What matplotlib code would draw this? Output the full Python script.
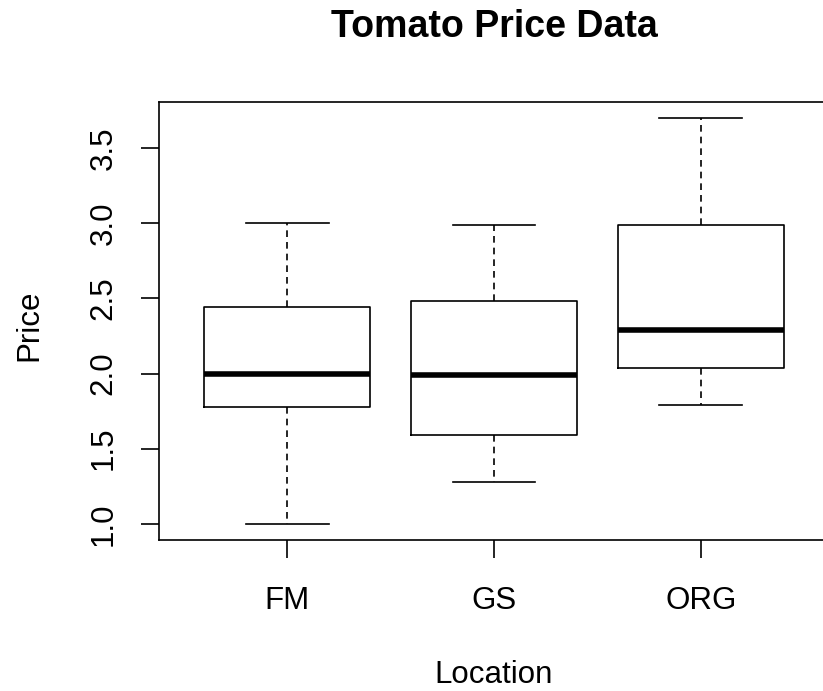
import matplotlib
matplotlib.use("Agg")
import matplotlib.pyplot as plt

plt.rcParams['font.family'] = ['Liberation Sans', 'DejaVu Sans']

# five-number summaries
locations = ["FM", "GS", "ORG"]
whisker_low = [1.00, 1.28, 1.79]
q1 = [1.78, 1.59, 2.04]
median = [2.00, 1.99, 2.29]
q3 = [2.44, 2.48, 2.99]
whisker_high = [3.00, 2.99, 3.70]
yticks = [1.0, 1.5, 2.0, 2.5, 3.0, 3.5]

stats = []
for i, name in enumerate(locations):
    stats.append({
        "label": name,
        "whislo": whisker_low[i],
        "q1": q1[i],
        "med": median[i],
        "q3": q3[i],
        "whishi": whisker_high[i],
        "fliers": [],
    })

W, H = 823, 691
fig = plt.figure(figsize=(W / 100, H / 100), dpi=100)
# plot region runs a little past the right edge of the picture (cropped R output)
ax = fig.add_axes([159 / W, 1 - 540 / H, (829 - 159) / W, (540 - 102) / H])

lw = 1.2
ax.bxp(stats, positions=[1, 2, 3], widths=0.8, showfliers=False,
       boxprops=dict(color="black", linewidth=lw),
       medianprops=dict(color="black", linewidth=4, solid_capstyle="butt"),
       whiskerprops=dict(color="black", linewidth=lw, linestyle=(0, (4, 3))),
       capprops=dict(color="black", linewidth=lw),
       capwidths=0.4)

ax.set_xlim(0.38, 3.62)
ax.set_ylim(0.892, 3.808)
ax.set_xticks([1, 2, 3])
ax.set_xticklabels(locations)
ax.set_yticks(yticks)
ax.set_yticklabels(["%.1f" % v for v in yticks], rotation=90, va="center")

for s in ax.spines.values():
    s.set_linewidth(lw)
ax.tick_params(axis="both", length=13, width=lw, labelsize=22.5)
ax.tick_params(axis="x", pad=20)
ax.tick_params(axis="y", pad=16)

ax.set_xlabel("Location", fontsize=22.5, va="baseline")
ax.xaxis.set_label_coords(0.5, (540 - 683) / (540 - 102))
ax.set_ylabel("Price", fontsize=22.5)
ax.yaxis.set_label_coords((44 - 159) / (829 - 159), 0.49)

fig.text(494 / W, 1 - 37 / H, "Tomato Price Data", fontsize=27, fontweight="bold",
         ha="center", va="baseline")

fig.savefig("out.png", dpi=100)
